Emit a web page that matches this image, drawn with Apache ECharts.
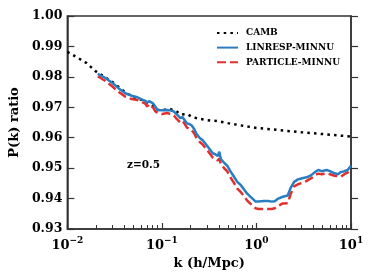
<!DOCTYPE html>
<html>
<head>
<meta charset="utf-8">
<script src="https://cdn.jsdelivr.net/npm/echarts@6/dist/echarts.min.js"></script>
<style>
html,body{margin:0;padding:0;background:#fff;}
#chart{width:374px;height:280px;}
</style>
</head>
<body>
<div id="chart"></div>
<script>
const cambK = [0.01, 0.013, 0.016, 0.02, 0.025, 0.03, 0.04, 0.05, 0.06, 0.07, 0.08, 0.09, 0.1, 0.12, 0.14, 0.16, 0.185, 0.21, 0.25, 0.3, 0.4, 0.5, 0.7, 1.0, 1.5, 2, 3, 5, 7, 10];
const cambVals = [0.9882, 0.9862, 0.9845, 0.9818, 0.9799, 0.9783, 0.9752, 0.9733, 0.9725, 0.9716, 0.9705, 0.9692, 0.9690, 0.9695, 0.9688, 0.9676, 0.9678, 0.9668, 0.9662, 0.9658, 0.9654, 0.9648, 0.9640, 0.9632, 0.9627, 0.9623, 0.9618, 0.9612, 0.9608, 0.9604];

const simK = [0.021, 0.025, 0.03, 0.035, 0.041, 0.048, 0.055, 0.061, 0.066, 0.070, 0.074, 0.077, 0.081, 0.086, 0.090, 0.10, 0.115, 0.125, 0.134, 0.145, 0.157, 0.165, 0.172, 0.184, 0.195, 0.207, 0.22, 0.233, 0.253, 0.27, 0.296, 0.31, 0.345, 0.37, 0.39, 0.405, 0.42, 0.46, 0.49, 0.53, 0.57, 0.627, 0.68, 0.74, 0.794, 0.85, 0.92, 0.98, 1.05, 1.1, 1.2, 1.33, 1.45, 1.56, 1.7, 1.9, 2.14, 2.3, 2.5, 2.75, 3.05, 3.4, 3.8, 4.2, 4.5, 4.9, 5.5, 6.0, 6.7, 7.3, 7.8, 8.5, 9.2, 10];
const linrespVals = [0.9810, 0.9797, 0.9780, 0.9762, 0.9746, 0.9738, 0.9733, 0.9726, 0.9722, 0.9716, 0.9720, 0.9722, 0.9712, 0.9700, 0.9691, 0.9690, 0.9691, 0.9689, 0.9686, 0.9676, 0.9664, 0.9668, 0.9663, 0.9647, 0.9645, 0.9640, 0.9628, 0.9612, 0.9598, 0.9592, 0.9576, 0.9570, 0.9549, 0.9545, 0.9540, 0.9554, 0.9530, 0.9516, 0.9508, 0.9490, 0.9475, 0.9455, 0.9445, 0.9430, 0.9417, 0.9408, 0.9398, 0.9390, 0.9390, 0.9393, 0.9392, 0.9392, 0.9390, 0.9391, 0.9400, 0.9406, 0.9410, 0.9435, 0.9455, 0.9463, 0.9467, 0.9470, 0.9477, 0.9488, 0.9494, 0.9490, 0.9494, 0.9490, 0.9483, 0.9480, 0.9487, 0.9490, 0.9494, 0.9508];
const particleVals = [0.9802, 0.9787, 0.9768, 0.9750, 0.9735, 0.9727, 0.9724, 0.9718, 0.9713, 0.9703, 0.9710, 0.9712, 0.9698, 0.9685, 0.9680, 0.9678, 0.9681, 0.9677, 0.9673, 0.9660, 0.9650, 0.9655, 0.9648, 0.9633, 0.9630, 0.9625, 0.9614, 0.9598, 0.9585, 0.9578, 0.9562, 0.9556, 0.9535, 0.9530, 0.9525, 0.9532, 0.9514, 0.9498, 0.9490, 0.9470, 0.9455, 0.9433, 0.9422, 0.9408, 0.9394, 0.9385, 0.9376, 0.9368, 0.9366, 0.9367, 0.9366, 0.9366, 0.9366, 0.9368, 0.9376, 0.9384, 0.9385, 0.9415, 0.9440, 0.9447, 0.9452, 0.9458, 0.9467, 0.9478, 0.9482, 0.9480, 0.9483, 0.9480, 0.9475, 0.9474, 0.9472, 0.9480, 0.9485, 0.9497];

const yTicks = [0.93, 0.94, 0.95, 0.96, 0.97, 0.98, 0.99, 1.00];
const xTickLabels = {0.01: '−2', 0.1: '−1', 1: '0', 10: '1'};

const FONT = 'DejaVu Serif';
const AX = '#333333';

function pairs(ks, vs) { return ks.map((k, i) => [k, vs[i]]); }

const chart = echarts.init(document.getElementById('chart'), null, {renderer: 'canvas'});
chart.setOption({
  animation: false,
  backgroundColor: '#ffffff',
  grid: {left: 60, right: 23, top: 16, bottom: 51, show: true, borderColor: AX, borderWidth: 1.5, backgroundColor: 'transparent'},
  legend: {
    orient: 'vertical', left: 211, top: 23, itemWidth: 21, itemHeight: 10, itemGap: 4.6,
    itemStyle: {opacity: 0},
    textStyle: {fontFamily: FONT, fontWeight: 'bold', fontSize: 9, lineHeight: 10, color: '#000', padding: [0, 0, 0, 3]},
    data: ['CAMB', 'LINRESP-MINNU', 'PARTICLE-MINNU']
  },
  xAxis: {
    type: 'log', logBase: 10, min: 0.01, max: 10,
    name: 'k (h/Mpc)', nameLocation: 'middle', nameGap: 26,
    nameTextStyle: {fontFamily: FONT, fontWeight: 'bold', fontSize: 13, color: '#000'},
    axisLine: {show: true, lineStyle: {color: AX, width: 1.5}},
    axisTick: {show: true, inside: true, length: 6, lineStyle: {color: AX, width: 1.2}},
    minorTick: {show: true, splitNumber: 9, length: 4, lineStyle: {color: AX, width: 1}},
    splitLine: {show: false}, minorSplitLine: {show: false},
    axisLabel: {
      margin: 7,
      formatter: function (v) {
        const key = String(v);
        const e = xTickLabels[key] !== undefined ? xTickLabels[key] : String(Math.round(Math.log10(v))).replace('-', '−');
        return '{b|10}{s|' + e + '}';
      },
      rich: {
        b: {fontFamily: FONT, fontWeight: 'bold', fontSize: 13, color: '#000', lineHeight: 16, verticalAlign: 'bottom'},
        s: {fontFamily: FONT, fontWeight: 'bold', fontSize: 9, color: '#000', lineHeight: 16, verticalAlign: 'top', padding: [0, 0, 5, 0]}
      }
    }
  },
  yAxis: [{
    type: 'value', min: 0.93, max: 1.00, interval: 0.01,
    name: 'P(k) ratio', nameLocation: 'middle', nameGap: 37, nameRotate: 90,
    nameTextStyle: {fontFamily: FONT, fontWeight: 'bold', fontSize: 13, color: '#000'},
    axisLine: {show: true, lineStyle: {color: AX, width: 1.5}},
    axisTick: {show: true, inside: true, length: 7, lineStyle: {color: AX, width: 1.2}},
    splitLine: {show: false},
    axisLabel: {margin: 5, fontFamily: FONT, fontWeight: 'bold', fontSize: 12.5, color: '#000',
      formatter: v => v.toFixed(2)}
  }, {
    type: 'value', min: 0.93, max: 1.00, interval: 0.01, position: 'right', show: true, gridIndex: 0,
    axisLine: {show: true, onZero: false, lineStyle: {color: AX, width: 1.5}},
    axisTick: {show: true, inside: false, length: 7, lineStyle: {color: AX, width: 1.2}},
    splitLine: {show: false}, axisLabel: {show: false}
  }],
  graphic: [{
    type: 'text', left: 127, top: 160,
    style: {text: 'z=0.5', font: 'bold 10.5px "DejaVu Serif"', fill: '#000'}
  }],
  series: [{
    name: 'CAMB', type: 'line', data: pairs(cambK, cambVals), showSymbol: false, symbol: 'none',
    lineStyle: {color: '#000', width: 2.5, type: [2.5, 4.2]}, itemStyle: {color: '#000'}, z: 1
  }, {
    name: 'LINRESP-MINNU', type: 'line', data: pairs(simK, linrespVals), showSymbol: false, symbol: 'none',
    lineStyle: {color: '#2a7dc0', width: 2.5}, itemStyle: {color: '#2a7dc0'}, z: 3
  }, {
    name: 'PARTICLE-MINNU', type: 'line', data: pairs(simK, particleVals), showSymbol: false, symbol: 'none',
    lineStyle: {color: '#e0302e', width: 2.5, type: [9, 4]}, itemStyle: {color: '#e0302e'}, z: 2
  }]
});
</script>
</body>
</html>
